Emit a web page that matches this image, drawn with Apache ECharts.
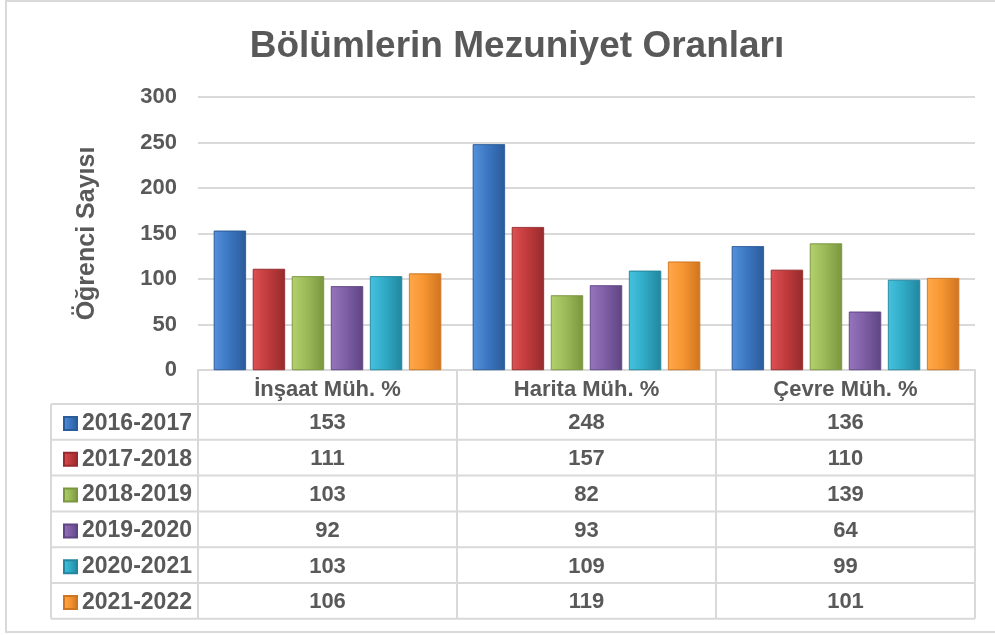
<!DOCTYPE html>
<html>
<head>
<meta charset="utf-8">
<script src="https://cdn.jsdelivr.net/npm/echarts@6/dist/echarts.min.js"></script>
<style>
html,body{margin:0;padding:0;background:#fff;}
#main{width:995px;height:635px;}
</style>
</head>
<body>
<div id="main"></div>
<script>
const titleText = 'Bölümlerin Mezuniyet Oranları';
const yAxisName = 'Öğrenci Sayısı';
const categories = ['İnşaat Müh. %', 'Harita Müh. %', 'Çevre Müh. %'];
const seriesNames = ['2016-2017', '2017-2018', '2018-2019', '2019-2020', '2020-2021', '2021-2022'];
const v2016 = [153, 248, 136];
const v2017 = [111, 157, 110];
const v2018 = [103, 82, 139];
const v2019 = [92, 93, 64];
const v2020 = [103, 109, 99];
const v2021 = [106, 119, 101];
const seriesValues = [v2016, v2017, v2018, v2019, v2020, v2021];
const yTicks = [0, 50, 100, 150, 200, 250, 300];

const palette = [
  ['#5590da', '#3c77c2', '#2a5b9a'],
  ['#de5153', '#c23b3d', '#962b2d'],
  ['#b3d16d', '#9bbb59', '#7a963f'],
  ['#9675bd', '#7f5fa6', '#5f4584'],
  ['#45c2de', '#31acc8', '#22869e'],
  ['#ffa84a', '#f79632', '#cf7520']
];
const grad = (c) => new echarts.graphic.LinearGradient(0, 0, 1, 0, [
  {offset: 0, color: c[0]}, {offset: 0.45, color: c[1]}, {offset: 1, color: c[2]}
]);

const textColor = '#595959';
const lineColor = '#d9d9d9';
const font = 'Liberation Sans, Arial, sans-serif';

const chart = echarts.init(document.getElementById('main'), null, {renderer: 'canvas'});

const option = {
  backgroundColor: '#ffffff',
  animation: false,
  title: {
    text: titleText,
    left: 512,
    textAlign: 'center',
    top: 23,
    textStyle: {fontFamily: font, fontSize: 37, fontWeight: 'bold', color: textColor}
  },
  legend: {
    orient: 'vertical',
    left: 58,
    top: 406.5,
    itemWidth: 13,
    itemHeight: 13,
    itemGap: 11.8,
    icon: 'rect',
    textStyle: {fontFamily: font, fontSize: 23, fontWeight: 'bold', color: textColor, lineHeight: 24},
    data: seriesNames
  },
  grid: {left: 198, right: 20, top: 97, bottom: 265, containLabel: false},
  xAxis: {
    type: 'category',
    data: categories,
    axisLine: {show: true, lineStyle: {color: lineColor, width: 2}},
    axisTick: {show: false},
    axisLabel: {margin: 9, fontFamily: font, fontSize: 22, fontWeight: 'bold', color: textColor}
  },
  yAxis: {
    type: 'value',
    min: 0, max: 300, interval: 50,
    name: yAxisName,
    nameLocation: 'middle',
    nameGap: 98,
    nameRotate: 90,
    nameTextStyle: {fontFamily: font, fontSize: 25, fontWeight: 'bold', color: textColor},
    axisLine: {show: false},
    axisTick: {show: false},
    axisLabel: {margin: 21, fontFamily: font, fontSize: 22, fontWeight: 'bold', color: textColor},
    splitLine: {lineStyle: {color: lineColor, width: 2}}
  },
  series: seriesNames.map((n, i) => ({
    name: n,
    type: 'bar',
    data: seriesValues[i],
    barWidth: 32,
    barGap: '22%',
    itemStyle: {color: grad(palette[i]), borderColor: palette[i][2], borderWidth: 0.6}
  }))
};
chart.setOption(option);

function drawTable() {
  const colEdges = [];
  const centers = categories.map((c) => chart.convertToPixel({xAxisIndex: 0}, c));
  const step = centers.length > 1 ? centers[1] - centers[0] : 259;
  colEdges.push(centers[0] - step / 2);
  centers.forEach((c) => colEdges.push(c + step / 2));
  const top = chart.convertToPixel({yAxisIndex: 0}, 0);
  const headerH = 34;
  const rowH = 35.8;
  const leftX = 51;
  const nRows = seriesNames.length;
  const rowTop = top + headerH;
  const bottom = rowTop + rowH * nRows;
  const els = [];
  const ls = {stroke: lineColor, lineWidth: 2};
  els.push({type: 'rect', shape: {x: 6, y: 1, width: 995, height: 631}, style: {fill: null, stroke: lineColor, lineWidth: 2}, silent: true, z: -1});
  for (let r = 0; r <= nRows; r++) {
    const y = rowTop + r * rowH;
    els.push({type: 'line', shape: {x1: leftX, y1: y, x2: colEdges[colEdges.length - 1], y2: y}, style: ls, silent: true});
  }
  els.push({type: 'line', shape: {x1: leftX, y1: rowTop, x2: leftX, y2: bottom}, style: ls, silent: true});
  colEdges.forEach((x) => {
    els.push({type: 'line', shape: {x1: x, y1: top, x2: x, y2: bottom}, style: ls, silent: true});
  });
  seriesValues.forEach((vals, r) => {
    vals.forEach((v, c) => {
      els.push({
        type: 'text', x: centers[c], y: rowTop + rowH * (r + 0.5) + 1.5, silent: true,
        style: {text: String(v), fill: textColor, font: 'bold 22px ' + font, align: 'center', verticalAlign: 'middle'}
      });
    });
  });
  chart.setOption({graphic: {elements: els}});
}
drawTable();
</script>
</body>
</html>
